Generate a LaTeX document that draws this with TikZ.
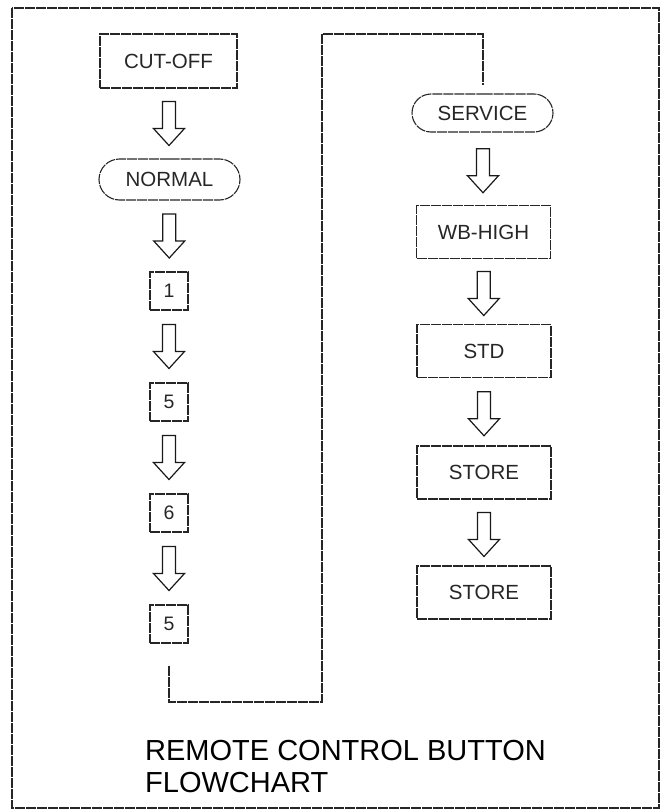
\documentclass[tikz,border=0pt]{standalone}
\usepackage{fontspec}
\setmainfont{Liberation Sans}
\usetikzlibrary{shapes.misc,calc}
\begin{document}
\begin{tikzpicture}[x=1pt,y=-1pt,
  line/.style={line width=1.1pt, draw=black!85, dash pattern=on 10pt off 1pt},
  box/.style={line, rectangle, inner sep=0pt, font=\fontsize{20.5}{20.5}\selectfont, text=black!85},
  pill/.style={box, rounded rectangle},
  smallbox/.style={box, minimum width=38pt, minimum height=38pt, font=\fontsize{19.5}{19.5}\selectfont},
  widebox/.style={box, minimum width=134pt, minimum height=53pt},
  flowarrow/.style={line width=1.2pt, draw=black!90, line join=miter},
  pics/blockarrow/.style={code={
    \draw[flowarrow] (-6.5,-22) -- (6.5,-22) -- (6.5,5) -- (15.5,5) -- (0,22) -- (-15.5,5) -- (-6.5,5) -- cycle;}},
  titletext/.style={anchor=base west, inner sep=0pt, font=\fontsize{29}{32}\selectfont}
]
\useasboundingbox (0,0) rectangle (669,811);
\draw[line] (12,8) rectangle (659,808);

% left column
\node[box, minimum width=137pt, minimum height=54pt] (cut) at (168.5,61) {CUT-OFF};
\node[pill, minimum width=141pt, minimum height=41pt] (normal) at (169.5,179.5) {NORMAL};
\node[smallbox] (b1) at (169,291) {1};
\node[smallbox] (b2) at (169,402) {5};
\node[smallbox] (b3) at (169,513) {6};
\node[smallbox] (b4) at (169,624) {5};

% right column
\node[pill, minimum width=141pt, minimum height=38pt] (serv) at (482.5,113) {SERVICE};
\node[widebox] (wb) at (483.5,232) {WB-HIGH};
\node[widebox] (std) at (484,351) {STD};
\node[widebox] (st1) at (484,472.5) {STORE};
\node[widebox] (st2) at (484,592.5) {STORE};

% block arrows
\pic at ($(cut.south)!0.5!(normal.north)$) {blockarrow};
\pic at ($(normal.south)!0.5!(b1.north)$) {blockarrow};
\pic at ($(b1.south)!0.5!(b2.north)$) {blockarrow};
\pic at ($(b2.south)!0.5!(b3.north)$) {blockarrow};
\pic at ($(b3.south)!0.5!(b4.north)$) {blockarrow};
\pic at ($(serv.south)!0.5!(wb.north)+(0,2)$) {blockarrow};
\pic at ($(wb.south)!0.5!(std.north)+(0,2)$) {blockarrow};
\pic at ($(std.south)!0.5!(st1.north)+(0,2)$) {blockarrow};
\pic at ($(st1.south)!0.5!(st2.north)+(0,2)$) {blockarrow};

% connector from left column to right column
\coordinate (c1) at ($(b4.south)+(0,22)$);
\coordinate (c2) at ($(serv.north)+(0.5,-8)$);
\draw[line] (c1) |- (322,702) -- (322,34) -| (c2);

% title
\node[titletext] (t1) at (145,760) {REMOTE CONTROL BUTTON};
\node[titletext] (t2) at (145,792) {FLOWCHART};
\end{tikzpicture}
\end{document}
